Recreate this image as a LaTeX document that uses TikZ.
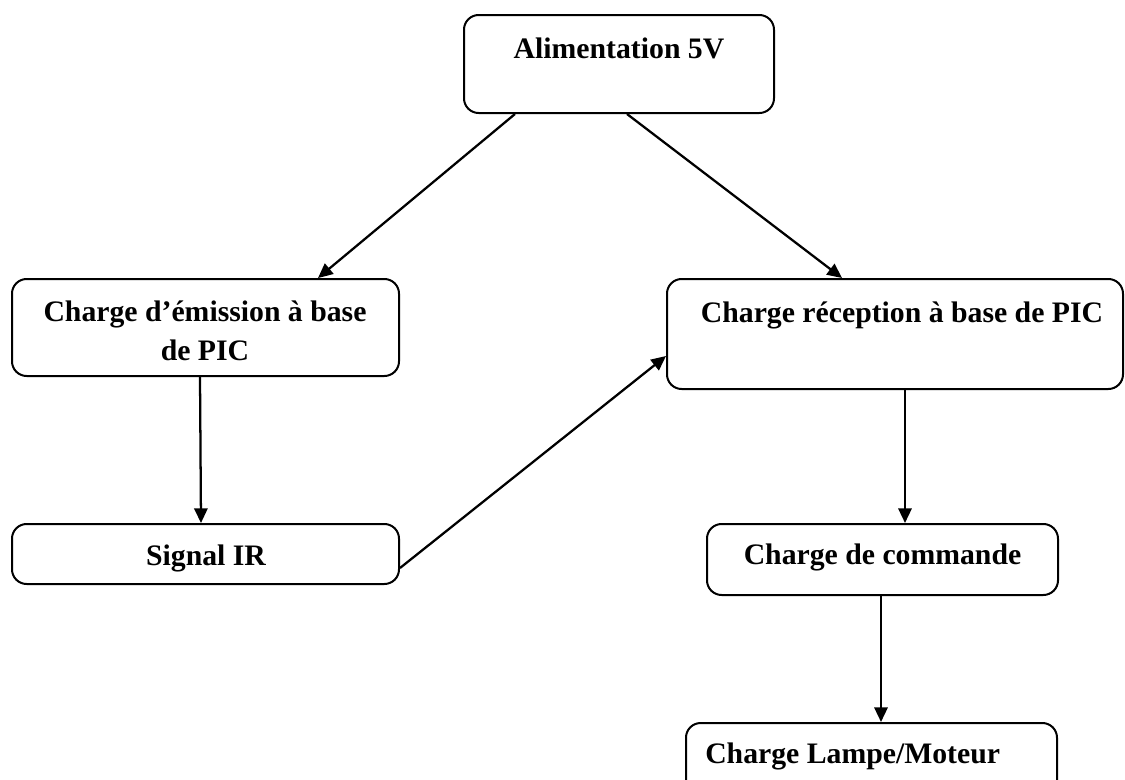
\documentclass[tikz,border=0pt]{standalone}
\usepackage{fontspec}
\setmainfont{Liberation Serif}
\usetikzlibrary{arrows.meta,calc}

\tikzset{
  blockbox/.style={draw=black, line width=1.5pt, rounded corners=11pt,
    rectangle, inner sep=0pt, fill=white},
  blocktext/.style={inner sep=0pt, font=\fontsize{22.3pt}{29pt}\selectfont\bfseries, align=center},
  flow/.style={draw=black, line width=1.7pt, -{Triangle[length=11pt,width=10pt]}}
}

\begin{document}
\begin{tikzpicture}[x=0.75pt, y=-0.75pt]
  \clip (0,0) rectangle (1125,779);
  \fill[white] (0,0) rectangle (1125,779);

  % blocks
  \node[blockbox, minimum width=310*0.75pt, minimum height=98*0.75pt]  (alim) at (619,64) {};
  \node[blockbox, minimum width=387*0.75pt, minimum height=97*0.75pt]  (emis) at (205.5,327.5) {};
  \node[blockbox, minimum width=387*0.75pt, minimum height=60*0.75pt]  (sig)  at (205.5,554) {};
  \node[blockbox, minimum width=456*0.75pt, minimum height=110*0.75pt] (recp) at (895,334) {};
  \node[blockbox, minimum width=351*0.75pt, minimum height=71*0.75pt]  (cmd)  at (882.5,559.5) {};
  \node[blockbox, minimum width=371*0.75pt, minimum height=80*0.75pt]  (lamp) at (871.5,763) {};

  % labels
  \node[blocktext, anchor=base] (talim) at (619,58) {Alimentation 5V};
  \node[blocktext, anchor=center] (temis) at (205,331) {Charge d’émission à base\\de PIC};
  \node[blocktext, anchor=base] (tsig) at (206,565) {Signal IR};
  \node[blocktext, anchor=base] (trecp) at (902,322) {Charge réception à base de PIC};
  \node[blocktext, anchor=base] (tcmd) at (882.5,564) {Charge de commande};
  \node[blocktext, anchor=base west] (tlamp) at (705,763) {Charge Lampe/Moteur};

  % connectors
  \draw[flow] ($(alim.south)+(-104,0)$) -- ($(emis.north)+(112.5,0)$);
  \draw[flow] ($(alim.south)+(8,0)$) -- ($(recp.north)+(-53,0)$);
  \draw[flow] ($(emis.south)+(-5.5,0)$) -- ($(sig.north)+(-4.5,0)$);
  \draw[flow] ($(sig.east)+(0,14)$) -- ($(recp.west)+(0,22)$);
  \draw[flow] ($(recp.south)+(10,0)$) -- ($(cmd.north)+(22.5,0)$);
  \draw[flow] ($(cmd.south)+(-1.5,0)$) -- ($(lamp.north)+(9.5,0)$);
\end{tikzpicture}
\end{document}
